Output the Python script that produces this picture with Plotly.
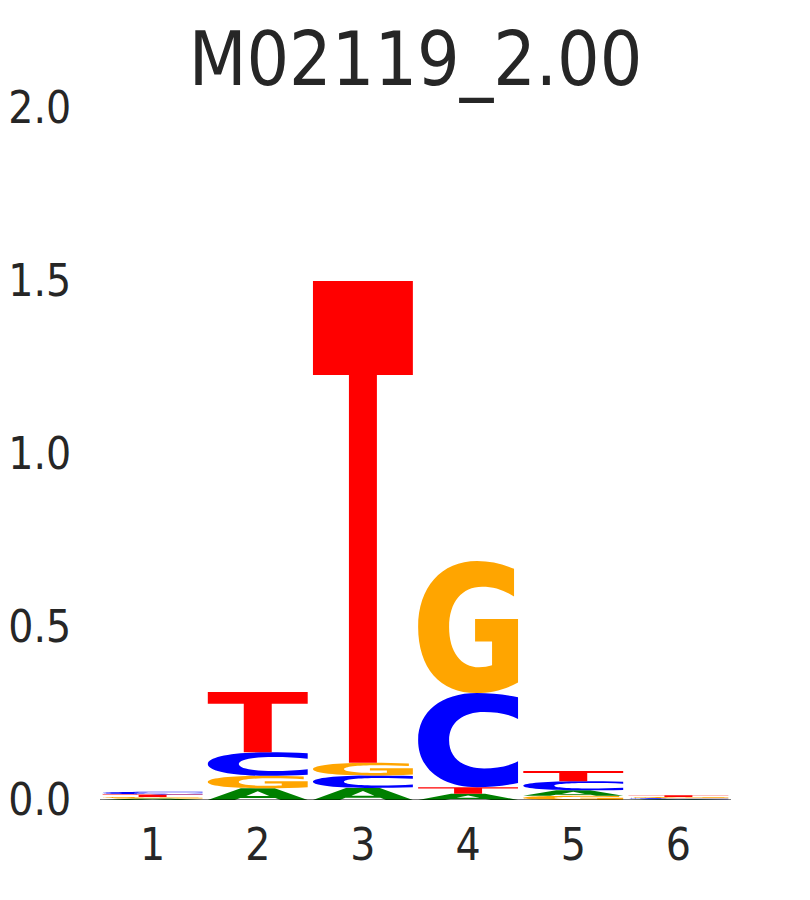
import plotly.graph_objects as go

# ---------------- data ----------------
positions = [1, 2, 3, 4, 5, 6]
A_vals = [0.004, 0.034, 0.035, 0.018, 0.016, 0.002]
C_vals = [0.008, 0.068, 0.036, 0.272, 0.026, 0.003]
G_vals = [0.005, 0.036, 0.037, 0.382, 0.012, 0.004]
T_vals = [0.007, 0.174, 1.392, 0.019, 0.030, 0.005]
y_tickvals = [0.0, 0.5, 1.0, 1.5, 2.0]
y_ticktext = ["0.0", "0.5", "1.0", "1.5", "2.0"]
x_ticktext = ["1", "2", "3", "4", "5", "6"]
title_text = "M02119_2.00"

# ---------------- glyph outlines (unit box, y up) ----------------
GLYPHS = {
    "A": [
        ("M", [0.0, 0.0]), ("L", [0.33, 1.0]), ("L", [0.67, 1.0]), ("L", [1.0, 0.0]),
        ("L", [0.73, 0.0]), ("L", [0.675, 0.18]), ("L", [0.325, 0.18]), ("L", [0.27, 0.0]), ("Z", []),
        ("M", [0.385, 0.35]), ("L", [0.615, 0.35]), ("L", [0.5, 0.74]), ("Z", []),
    ],
    "C": [
        ("M", [1.0, 0.955]),
        ("C", [0.87, 0.985, 0.73, 1.0, 0.59, 1.0]),
        ("C", [0.23, 1.0, 0.0, 0.8, 0.0, 0.5]),
        ("C", [0.0, 0.2, 0.23, 0.0, 0.59, 0.0]),
        ("C", [0.73, 0.0, 0.87, 0.015, 1.0, 0.045]),
        ("L", [1.0, 0.275]),
        ("C", [0.90, 0.22, 0.78, 0.2, 0.66, 0.2]),
        ("C", [0.45, 0.2, 0.31, 0.31, 0.31, 0.5]),
        ("C", [0.31, 0.69, 0.45, 0.8, 0.66, 0.8]),
        ("C", [0.78, 0.8, 0.90, 0.78, 1.0, 0.725]),
        ("Z", []),
    ],
    "G": [
        ("M", [0.96, 0.94]),
        ("C", [0.84, 0.98, 0.72, 1.0, 0.59, 1.0]),
        ("C", [0.23, 1.0, 0.0, 0.8, 0.0, 0.5]),
        ("C", [0.0, 0.19, 0.22, 0.0, 0.58, 0.0]),
        ("C", [0.74, 0.0, 0.88, 0.03, 1.0, 0.08]),
        ("L", [1.0, 0.56]), ("L", [0.57, 0.56]), ("L", [0.57, 0.39]),
        ("L", [0.74, 0.39]), ("L", [0.74, 0.21]),
        ("C", [0.70, 0.2, 0.66, 0.195, 0.61, 0.195]),
        ("C", [0.43, 0.195, 0.31, 0.31, 0.31, 0.5]),
        ("C", [0.31, 0.69, 0.44, 0.805, 0.64, 0.805]),
        ("C", [0.76, 0.805, 0.86, 0.78, 0.96, 0.73]),
        ("Z", []),
    ],
    "T": [
        ("M", [0.0, 1.0]), ("L", [1.0, 1.0]), ("L", [1.0, 0.805]), ("L", [0.64, 0.805]),
        ("L", [0.64, 0.0]), ("L", [0.36, 0.0]), ("L", [0.36, 0.805]), ("L", [0.0, 0.805]), ("Z", []),
    ],
}
COLORS = {"A": "#008000", "C": "#0000ff", "G": "#ffa500", "T": "#ff0000"}
GLYPH_WIDTH = 0.95


def glyph_path(letter, x0, y0, w, h):
    parts = []
    for cmd, pts in GLYPHS[letter]:
        if cmd == "Z":
            parts.append("Z")
            continue
        coords = []
        for k in range(0, len(pts), 2):
            coords.append(f"{x0 + pts[k] * w:.5f},{y0 + pts[k + 1] * h:.6f}")
        parts.append(cmd + " " + " ".join(coords))
    return " ".join(parts)


values = {"A": A_vals, "C": C_vals, "G": G_vals, "T": T_vals}

fig = go.Figure()
# invisible trace to establish axes
fig.add_trace(go.Scatter(x=positions, y=[0] * len(positions), mode="markers",
                         marker=dict(opacity=0), hoverinfo="skip", showlegend=False))

shapes = []
for i, pos in enumerate(positions):
    col = sorted(values.keys(), key=lambda L: values[L][i])
    base = 0.0
    for L in col:
        h = values[L][i]
        if h > 0:
            shapes.append(dict(
                type="path", xref="x", yref="y",
                path=glyph_path(L, pos - GLYPH_WIDTH / 2, base, GLYPH_WIDTH, h),
                fillcolor=COLORS[L], line=dict(width=0), layer="above",
            ))
        base += h

# baseline
shapes.append(dict(type="line", xref="paper", yref="y", x0=0, x1=1, y0=0, y1=0,
                   line=dict(color="black", width=1.2), layer="above"))

font_family = "DejaVu Sans Condensed, DejaVu Sans, sans-serif"
text_color = "#262626"
FIG_W, FIG_H = 802, 892

fig.update_layout(
    width=FIG_W, height=FIG_H,
    margin=dict(l=92, r=79, t=100, b=100, autoexpand=False),
    paper_bgcolor="white", plot_bgcolor="white",
    shapes=shapes,
    showlegend=False,
    title=dict(text=title_text, x=0.5, xref="paper", xanchor="center",
               y=1 - 51 / FIG_H, yref="container", yanchor="middle",
               font=dict(family=font_family, size=74.5, color=text_color)),
    font=dict(family=font_family, color=text_color),
)
fig.update_xaxes(range=[0.5, 6.5], tickvals=positions, ticktext=x_ticktext,
                 showgrid=False, zeroline=False, showline=False, automargin=False,
                 ticks="outside", ticklen=6, tickcolor="rgba(0,0,0,0)",
                 tickfont=dict(family=font_family, size=44, color=text_color))
fig.update_yaxes(range=[0, 2], tickvals=y_tickvals, ticktext=y_ticktext,
                 showgrid=False, zeroline=False, showline=False, automargin=False,
                 ticks="outside", ticklen=19, tickcolor="rgba(0,0,0,0)",
                 tickfont=dict(family=font_family, size=44, color=text_color))

fig.write_html("out.html")
